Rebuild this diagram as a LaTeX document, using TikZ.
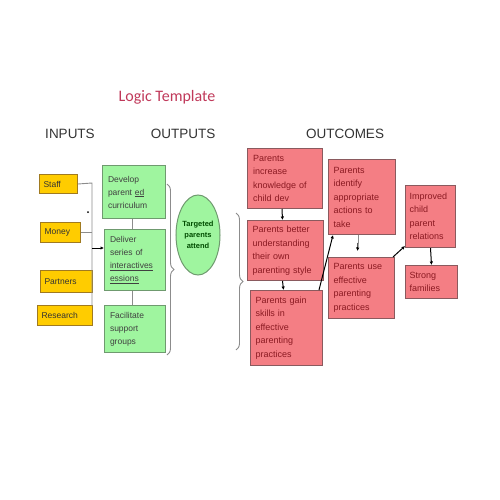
\documentclass[tikz,border=0pt]{standalone}
\usepackage{fontspec}
\setmainfont{Liberation Sans}
\newfontfamily\titlefont{Carlito}
\usetikzlibrary{arrows.meta,decorations.pathreplacing,shapes.geometric,calc}
\definecolor{yfill}{HTML}{FFCC00}
\definecolor{ydraw}{HTML}{A07A20}
\definecolor{gfill}{HTML}{9FF59F}
\definecolor{gdraw}{HTML}{6F9A6F}
\definecolor{rfill}{HTML}{F47E84}
\definecolor{rdraw}{HTML}{8A5A5E}
\definecolor{rtext}{HTML}{8B1A22}
\definecolor{titlecol}{HTML}{C0395A}
\definecolor{linegray}{HTML}{8C8C8C}
\begin{document}
\begin{tikzpicture}[x=1pt,y=-1pt,
  hdr/.style={font=\fontsize{13.5}{15}\selectfont, text=black!80, inner sep=0pt},
  ybox/.style={draw=ydraw, line width=1pt, fill=yfill, anchor=north west, inner xsep=4pt, inner ysep=0pt,
    font=\fontsize{8.5}{10}\selectfont, text=black!80, align=left},
  gbox/.style={draw=gdraw, line width=1pt, fill=gfill, anchor=north west, inner xsep=5pt, inner ysep=2pt,
    font=\fontsize{8.5}{13}\selectfont, text=black!75, align=left},
  rbox/.style={draw=rdraw, line width=1pt, fill=rfill, anchor=north west, inner xsep=5pt, inner ysep=2pt,
    font=\fontsize{9}{13.5}\selectfont, text=rtext, align=left},
  conn/.style={draw=linegray, line width=0.9pt},
  arr/.style={draw=black, line width=1pt, -{Latex[length=3.5pt,width=3.5pt]}},
  brc/.style={draw=linegray, line width=0.9pt, decorate, decoration={brace, amplitude=7pt}}
]
\useasboundingbox (0,0) rectangle (500,500);

\node[font=\titlefont\fontsize{16}{18}\selectfont, text=titlecol, inner sep=0pt] (title) at (167,97) {Logic Template};
\node[hdr] (hin) at (70,134) {INPUTS};
\node[hdr] (hout) at (183,134) {OUTPUTS};
\node[hdr] (hoc) at (345,134) {OUTCOMES};

% inputs
\node[ybox, minimum width=38pt, minimum height=19pt, text width=30pt] (staff) at (39,174) {Staff};
\node[ybox, minimum width=40pt, minimum height=20pt, text width=32pt] (money) at (40,222) {Money};
\node[ybox, minimum width=52pt, minimum height=22pt, text width=44pt] (partners) at (40,270) {Partners};
\node[ybox, minimum width=55pt, minimum height=20pt, text width=47pt] (research) at (37,305) {Research};

\coordinate (vtop) at (92,183);
\coordinate (vbot) at (92,306);
\coordinate (vmid) at (92,248);
\draw[conn] (staff.east) -- (vtop) -- (vbot);
\draw[conn] (money.east) -- (money.east -| vtop);
\fill[black] (88,212) circle (1pt);

% outputs
\node[gbox, minimum width=63pt, minimum height=53pt, text width=52pt] (dev) at (102,165) {Develop\\parent \underline{ed}\\curriculum};
\node[gbox, minimum width=61pt, minimum height=61pt, text width=50pt] (del) at (104,229) {Deliver\\series of\\\underline{interactives}\\\underline{essions}};
\node[gbox, minimum width=61pt, minimum height=47pt, text width=50pt] (fac) at (104,305) {Facilitate\\support\\groups};
\draw[arr, line width=0.8pt] (vmid) -- (vmid -| del.west);
\draw[conn] ($(dev.south west)+(30,0)$) -- ($(del.north west)+(28,0)$);
\draw[conn] ($(del.south west)+(28,0)$) -- ($(fac.north west)+(28,0)$);

\coordinate (b1a) at (167,184);
\coordinate (b1b) at (167,355);
\draw[brc] (b1a) -- (b1b);

\node[ellipse, draw=gdraw, line width=1pt, fill=gfill, minimum width=40pt, minimum height=80pt, inner sep=0pt,
  font=\bfseries\fontsize{7.5}{11}\selectfont, text=green!30!black, align=center] (tpa) at (198,235) {Targeted\\parents\\attend};

\coordinate (b2a) at (236,213);
\coordinate (b2b) at (236,350);
\draw[brc] (b2a) -- (b2b);

% outcomes
\node[rbox, minimum width=75pt, minimum height=60pt, text width=64pt] (o1) at (247,148) {Parents\\increase\\knowledge of\\child dev};
\node[rbox, minimum width=75pt, minimum height=60pt, text width=66pt] (o2) at (247,220) {Parents better\\understanding\\their own\\parenting style};
\node[rbox, minimum width=72pt, minimum height=75pt, text width=62pt] (o3) at (250,290) {Parents gain\\skills in\\effective\\parenting\\practices};
\node[rbox, minimum width=67pt, minimum height=75pt, text width=57pt] (o4) at (328,159) {Parents\\identify\\appropriate\\actions to\\take};
\node[rbox, minimum width=66pt, minimum height=61pt, text width=56pt] (o5) at (328,257) {Parents use\\effective\\parenting\\practices};
\node[rbox, minimum width=50pt, minimum height=62pt, text width=42pt, inner xsep=4pt] (o6) at (405,185) {Improved\\child\\parent\\relations};
\node[rbox, minimum width=52pt, minimum height=33pt, text width=44pt, inner xsep=4pt] (o7) at (405,265) {Strong\\families};

\draw[arr] ($(o1.south)+(-3,0)$) -- ($(o2.north)+(-3,0)$);
\draw[arr] ($(o2.south)+(-3,0)$) -- ($(o3.north)+(-3,0)$);
\draw[arr] ($(o3.north east)+(-4,0)$) -- ($(o4.south west)+(5,0)$);
\draw[conn] ($(o4.south)+(-4,0)$) -- ($(o4.south)+(-4,8)$);
\draw[arr] ($(o4.south)+(-4,8)$) -- ($(o5.north)+(-4,-6)$);
\draw[arr] ($(o5.north east)+(-2,0)$) -- ($(o6.south west)+(0,-2)$);
\draw[arr] (o6.south) -- (o7.north);
\end{tikzpicture}
\end{document}
